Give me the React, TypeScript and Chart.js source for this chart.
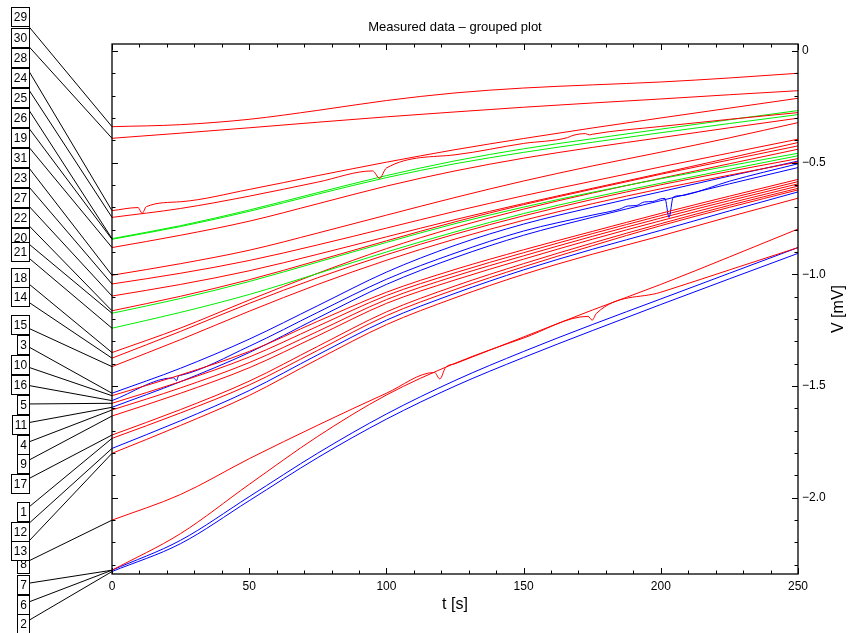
import React, { useEffect, useRef } from "react";
import { Chart, registerables } from "chart.js";

Chart.register(...registerables);

// ---------- data ----------
const timeS = [0, 25, 50, 75, 100, 125, 150, 175, 200, 225, 250];

const s29 = [-0.339, -0.33, -0.306, -0.266, -0.222, -0.188, -0.166, -0.152, -0.139, -0.121, -0.1];
const s30 = [-0.391, -0.368, -0.344, -0.319, -0.295, -0.273, -0.252, -0.233, -0.215, -0.196, -0.178];
const s28 = [-0.715, -0.675, -0.62, -0.558, -0.498, -0.442, -0.392, -0.345, -0.3, -0.256, -0.212];
const s24 = [-0.745, -0.705, -0.65, -0.587, -0.524, -0.465, -0.414, -0.373, -0.338, -0.306, -0.276];
const s25 = [-0.84, -0.782, -0.712, -0.634, -0.558, -0.492, -0.438, -0.393, -0.35, -0.308, -0.267];
const s26 = [-0.843, -0.786, -0.718, -0.641, -0.567, -0.505, -0.454, -0.409, -0.366, -0.325, -0.285];
const s19 = [-0.88, -0.825, -0.762, -0.684, -0.605, -0.537, -0.48, -0.432, -0.388, -0.344, -0.301];
const s31 = [-1.004, -0.952, -0.892, -0.815, -0.735, -0.656, -0.582, -0.515, -0.453, -0.389, -0.321];
const s23 = [-1.043, -0.995, -0.938, -0.868, -0.793, -0.718, -0.648, -0.583, -0.519, -0.457, -0.395];
const s27 = [-1.097, -1.045, -0.984, -0.91, -0.832, -0.755, -0.683, -0.615, -0.548, -0.479, -0.41];
const s22 = [-1.163, -1.098, -1.024, -0.938, -0.85, -0.765, -0.688, -0.619, -0.552, -0.488, -0.425];
const s20 = [-1.174, -1.108, -1.032, -0.945, -0.857, -0.773, -0.699, -0.633, -0.572, -0.514, -0.458];
const s21 = [-1.241, -1.17, -1.09, -0.996, -0.9, -0.81, -0.728, -0.656, -0.592, -0.53, -0.469];
const s18 = [-1.35, -1.24, -1.115, -0.995, -0.885, -0.79, -0.708, -0.636, -0.57, -0.505, -0.44];
const s14 = [-1.375, -1.255, -1.13, -1.015, -0.912, -0.82, -0.738, -0.665, -0.599, -0.539, -0.482];
const s15 = [-1.413, -1.292, -1.165, -1.045, -0.937, -0.842, -0.758, -0.684, -0.617, -0.556, -0.497];
const s3 = [-1.532, -1.42, -1.29, -1.14, -0.99, -0.87, -0.775, -0.7, -0.63, -0.56, -0.493];
const s10 = [-1.543, -1.45, -1.345, -1.21, -1.08, -0.978, -0.89, -0.808, -0.727, -0.65, -0.575];
const s16 = [-1.565, -1.452, -1.322, -1.17, -1.022, -0.905, -0.806, -0.735, -0.662, -0.583, -0.505];
const s5 = [-1.577, -1.48, -1.37, -1.232, -1.095, -0.993, -0.903, -0.818, -0.737, -0.66, -0.585];
const s11 = [-1.595, -1.48, -1.35, -1.195, -1.045, -0.925, -0.825, -0.745, -0.67, -0.595, -0.522];
const s4 = [-1.607, -1.508, -1.395, -1.255, -1.113, -1.008, -0.917, -0.83, -0.748, -0.67, -0.595];
const s9 = [-1.634, -1.532, -1.418, -1.275, -1.13, -1.025, -0.932, -0.843, -0.76, -0.681, -0.605];
const s17 = [-1.719, -1.605, -1.478, -1.322, -1.168, -1.052, -0.952, -0.86, -0.773, -0.691, -0.615];
const s1 = [-1.734, -1.62, -1.495, -1.34, -1.185, -1.068, -0.966, -0.872, -0.782, -0.7, -0.622];
const s12 = [-1.779, -1.655, -1.52, -1.36, -1.205, -1.085, -0.98, -0.888, -0.803, -0.716, -0.631];
const s13 = [-1.801, -1.676, -1.542, -1.38, -1.225, -1.105, -1.0, -0.91, -0.828, -0.742, -0.659];
const s8 = [-2.1, -1.985, -1.825, -1.675, -1.532, -1.4, -1.28, -1.16, -1.045, -0.922, -0.797];
const s7 = [-2.324, -2.16, -1.94, -1.725, -1.54, -1.398, -1.285, -1.205, -1.08, -0.98, -0.88];
const s6 = [-2.324, -2.19, -1.995, -1.8, -1.625, -1.475, -1.345, -1.225, -1.11, -0.995, -0.88];
const s2 = [-2.33, -2.205, -2.013, -1.82, -1.648, -1.5, -1.372, -1.252, -1.135, -1.02, -0.906];

// glitches and spikes: [t, V]
const g28: [number, number][] = [[9.5, -0.701], [11, -0.727], [12.5, -0.697]];
const g24: [number, number][] = [[95, -0.537], [97.5, -0.57], [166, -0.388], [168, -0.378], [172.5, -0.37], [174, -0.376]];
const g16: [number, number][] = [
  [22.5, -1.463], [23.5, -1.476], [24.2, -1.455],
  [185, -0.708], [188, -0.694], [191, -0.692], [194, -0.676], [197, -0.674],
  [201.5, -0.66], [203, -0.745], [204.5, -0.655], [207, -0.648], [209, -0.645],
];
const g8: [number, number][] = [[117.5, -1.439], [119.5, -1.468], [121.5, -1.418]];
const g7: [number, number][] = [[173.5, -1.188], [176.5, -1.175]];

const RED = "#ff0000";
const GREEN = "#00ee00";
const BLUE = "#0000ff";

const seriesDefs: { label: string; color: string; values: number[]; extra: [number, number][] }[] = [
  { label: "29", color: RED, values: s29, extra: [] },
  { label: "30", color: RED, values: s30, extra: [] },
  { label: "28", color: RED, values: s28, extra: g28 },
  { label: "24", color: RED, values: s24, extra: g24 },
  { label: "25", color: GREEN, values: s25, extra: [] },
  { label: "26", color: GREEN, values: s26, extra: [] },
  { label: "19", color: RED, values: s19, extra: [] },
  { label: "31", color: RED, values: s31, extra: [] },
  { label: "23", color: RED, values: s23, extra: [] },
  { label: "27", color: RED, values: s27, extra: [] },
  { label: "22", color: RED, values: s22, extra: [] },
  { label: "20", color: GREEN, values: s20, extra: [] },
  { label: "21", color: GREEN, values: s21, extra: [] },
  { label: "18", color: RED, values: s18, extra: [] },
  { label: "14", color: RED, values: s14, extra: [] },
  { label: "15", color: RED, values: s15, extra: [] },
  { label: "3", color: BLUE, values: s3, extra: [] },
  { label: "10", color: RED, values: s10, extra: [] },
  { label: "16", color: BLUE, values: s16, extra: g16 },
  { label: "5", color: RED, values: s5, extra: [] },
  { label: "11", color: BLUE, values: s11, extra: [] },
  { label: "4", color: RED, values: s4, extra: [] },
  { label: "9", color: RED, values: s9, extra: [] },
  { label: "17", color: RED, values: s17, extra: [] },
  { label: "1", color: RED, values: s1, extra: [] },
  { label: "12", color: BLUE, values: s12, extra: [] },
  { label: "13", color: RED, values: s13, extra: [] },
  { label: "8", color: RED, values: s8, extra: g8 },
  { label: "7", color: RED, values: s7, extra: g7 },
  { label: "6", color: BLUE, values: s6, extra: [] },
  { label: "2", color: BLUE, values: s2, extra: [] },
];

// label box centre heights (layout of the annotation column, px)
const labelBoxY = [16.5, 37.3, 57, 77, 97, 117, 137, 157, 177, 197, 217, 237, 251, 277, 296.7, 324.5, 344, 364.5, 384, 404, 424, 444, 463, 483, 511.5, 531, 550, 563.5, 584, 604, 623.5];

const xMajorTicks = [0, 50, 100, 150, 200, 250];
const yMajorTicks = [0, -0.5, -1.0, -1.5, -2.0];
const xMinorStep = 10;
const yMinorStep = 0.1;

const TITLE = "Measured data \u2013 grouped plot";
const X_TITLE = "t [s]";
const Y_TITLE = "V [mV]";
const FONT = "'Liberation Sans', Arial, Helvetica, sans-serif";

function fmtY(v: number): string {
  if (Math.abs(v) < 1e-9) return "0";
  return (v < 0 ? "\u2212" : "") + Math.abs(v).toFixed(1);
}

const decorPlugin = {
  id: "decor",
  beforeDraw(chart: any) {
    const { ctx, width, height } = chart;
    ctx.save();
    ctx.fillStyle = "#ffffff";
    ctx.fillRect(0, 0, width, height);
    ctx.restore();
  },
  afterDraw(chart: any) {
    const { ctx, chartArea: ca, scales } = chart;
    const xs = scales.x;
    const ys = scales.y;
    ctx.save();
    ctx.strokeStyle = "#000";
    ctx.fillStyle = "#000";

    // frame
    ctx.lineWidth = 1.3;
    ctx.strokeRect(ca.left, ca.top, ca.right - ca.left, ca.bottom - ca.top);

    // ticks (inward)
    ctx.lineWidth = 1;
    ctx.beginPath();
    for (let t = 0; t <= 250 + 1e-6; t += xMinorStep) {
      const major = Math.abs(t % 50) < 1e-6;
      const len = major ? 6 : 3.5;
      const px = Math.round(xs.getPixelForValue(t)) + 0.5;
      ctx.moveTo(px, ca.bottom);
      ctx.lineTo(px, ca.bottom - len);
      ctx.moveTo(px, ca.top);
      ctx.lineTo(px, ca.top + len);
    }
    for (let k = 0; k <= 23; k++) {
      const v = -k * yMinorStep;
      const major = k % 5 === 0;
      const len = major ? 6 : 3.5;
      const py = Math.round(ys.getPixelForValue(v)) + 0.5;
      ctx.moveTo(ca.right, py);
      ctx.lineTo(ca.right - len, py);
      ctx.moveTo(ca.left, py);
      ctx.lineTo(ca.left + len, py);
    }
    ctx.stroke();

    // titles
    ctx.textAlign = "center";
    ctx.textBaseline = "middle";
    ctx.font = `13px ${FONT}`;
    ctx.fillText(TITLE, (ca.left + ca.right) / 2, 27);
    ctx.font = `16px ${FONT}`;
    ctx.fillText(X_TITLE, (ca.left + ca.right) / 2, 605);
    ctx.save();
    ctx.translate(839, (ca.top + ca.bottom) / 2);
    ctx.rotate(-Math.PI / 2);
    ctx.fillText(Y_TITLE, 0, 0);
    ctx.restore();

    // label boxes with leader lines
    ctx.font = `12px ${FONT}`;
    const boxRight = 29.5;
    const boxH = 19;
    const boxes = seriesDefs.map((s, i) => {
      const w = Math.round(ctx.measureText(s.label).width + 5);
      const cy = labelBoxY[i];
      return {
        label: s.label,
        left: boxRight - w,
        w,
        cy,
        ty: ys.getPixelForValue(s.values[0]),
      };
    });
    ctx.lineWidth = 1;
    ctx.beginPath();
    boxes.forEach((b) => {
      ctx.moveTo(b.left + b.w / 2, b.cy);
      ctx.lineTo(ca.left, b.ty);
    });
    ctx.stroke();
    const order = boxes.slice().sort((a, b) => Number(a.label) - Number(b.label));
    order.forEach((b) => {
      const top = Math.round(b.cy - boxH / 2) + 0.5;
      ctx.fillStyle = "#fff";
      ctx.fillRect(b.left, top, b.w, boxH);
      ctx.strokeStyle = "#000";
      ctx.strokeRect(b.left, top, b.w, boxH);
      ctx.fillStyle = "#000";
      ctx.textAlign = "center";
      ctx.textBaseline = "middle";
      ctx.fillText(b.label, b.left + b.w / 2, top + boxH / 2 + 0.5);
    });
    ctx.restore();
  },
};

export default function App() {
  const canvasRef = useRef<HTMLCanvasElement | null>(null);

  useEffect(() => {
    if (!canvasRef.current) return;
    const datasets = seriesDefs.map((s) => {
      const pts = timeS
        .map((t, i) => ({ x: t, y: s.values[i] }))
        .concat(s.extra.map(([x, y]) => ({ x, y })))
        .sort((a, b) => a.x - b.x);
      return {
        label: s.label,
        data: pts,
        borderColor: s.color,
        backgroundColor: s.color,
        borderWidth: 1,
        pointRadius: 0,
        fill: false,
        cubicInterpolationMode: "monotone" as const,
      };
    });

    const chart = new Chart(canvasRef.current, {
      type: "line",
      data: { datasets },
      options: {
        responsive: false,
        animation: false,
        devicePixelRatio: 1,
        layout: { padding: { left: 112, top: 44, right: 0, bottom: 0 } },
        plugins: {
          legend: { display: false },
          tooltip: { enabled: false },
          title: { display: false },
        },
        scales: {
          x: {
            type: "linear",
            position: "bottom",
            min: 0,
            max: 250,
            grid: { display: false, drawTicks: false },
            border: { display: false },
            ticks: {
              color: "#000",
              font: { size: 12, family: FONT },
              padding: 5,
              maxRotation: 0,
              autoSkip: false,
            },
            afterBuildTicks: (s: any) => {
              s.ticks = xMajorTicks.map((v) => ({ value: v }));
            },
            afterFit: (s: any) => {
              s.height = 59;
            },
          },
          y: {
            type: "linear",
            position: "right",
            min: -2.341,
            max: 0.031,
            grid: { display: false, drawTicks: false },
            border: { display: false },
            ticks: {
              color: "#000",
              font: { size: 12, family: FONT },
              padding: 4,
              autoSkip: false,
              callback: (v: any) => fmtY(Number(v)),
            },
            afterBuildTicks: (s: any) => {
              s.ticks = yMajorTicks.map((v) => ({ value: v }));
            },
            afterFit: (s: any) => {
              s.width = 52;
            },
          },
        },
      },
      plugins: [decorPlugin],
    });
    return () => chart.destroy();
  }, []);

  return (
    <div style={{ position: "absolute", left: 0, top: 0, width: 850, height: 633, background: "#fff" }}>
      <canvas ref={canvasRef} width={850} height={633} style={{ display: "block", width: 850, height: 633 }} />
    </div>
  );
}
